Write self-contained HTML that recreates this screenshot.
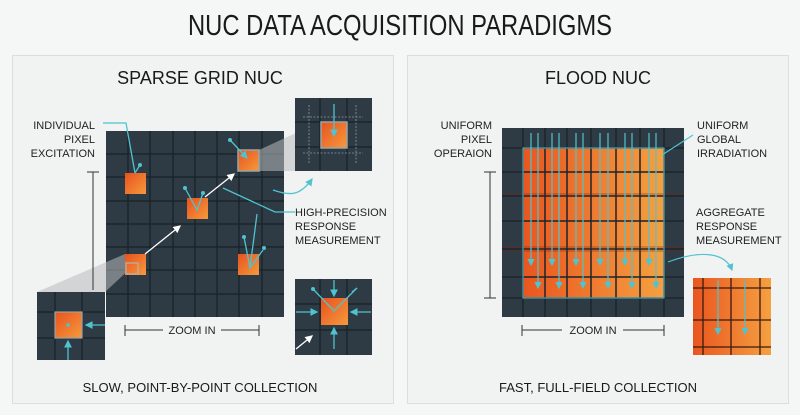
<!DOCTYPE html>
<html><head><meta charset="utf-8"><style>
html,body{margin:0;padding:0;background:#f5f6f6;}
svg{display:block;font-family:"Liberation Sans",sans-serif;}
</style></head><body>
<svg width="800" height="415" viewBox="0 0 800 415" xmlns="http://www.w3.org/2000/svg">
<defs>
<linearGradient id="og" x1="0" y1="0" x2="1" y2="1"><stop offset="0" stop-color="#e8521f"/><stop offset="1" stop-color="#f59a3c"/></linearGradient>
<linearGradient id="og2" x1="0" y1="0" x2="1" y2="0"><stop offset="0" stop-color="#e9561f"/><stop offset="1" stop-color="#f5a040"/></linearGradient>
<marker id="ac" markerWidth="6" markerHeight="6" refX="5" refY="3" orient="auto"><path d="M0,0L6,3L0,6z" fill="#4fc3d0"/></marker>
<marker id="aw" markerWidth="6" markerHeight="6" refX="5" refY="3" orient="auto"><path d="M0,0L6,3L0,6z" fill="#fff"/></marker>
</defs>
<text x="400" y="35" text-anchor="middle" font-size="29" fill="#1a1a1a" textLength="424" lengthAdjust="spacingAndGlyphs">NUC DATA ACQUISITION PARADIGMS</text>

<rect x="12.5" y="55.5" width="381" height="348" fill="#f1f2f2" stroke="#dcdede"/>
<rect x="407.5" y="55.5" width="381" height="348" fill="#f1f2f2" stroke="#dcdede"/>

<!-- LEFT -->
<text x="200" y="84" text-anchor="middle" font-size="18" fill="#1a1a1a">SPARSE GRID NUC</text>
<g fill="#2e3b45"><rect x="106" y="131" width="178" height="186"/></g>
<g stroke="#1b242b" stroke-width="1.5">
<path d="M128,131V317M150,131V317M173,131V317M195,131V317M217,131V317M239,131V317M262,131V317"/>
<path d="M106,154H284M106,177H284M106,201H284M106,224H284M106,247H284M106,270H284M106,294H284"/>
</g>
<!-- wedges -->
<polygon points="238,150 259,150 372,98 295,98 295,171 259,171" fill="#b8bcbe" opacity="0.55"/>
<polygon points="125,254 146,254 105,292 105,360 37,292" fill="#b8bcbe" opacity="0.55"/>
<!-- orange squares -->
<rect x="125" y="173" width="21" height="21" fill="url(#og)"/>
<rect x="187" y="198" width="21" height="21" fill="url(#og)"/>
<rect x="238" y="150" width="21" height="21" fill="url(#og)" stroke="#9aa5a5" stroke-width="1.5"/>
<rect x="125" y="254" width="21" height="21" fill="url(#og)"/>
<rect x="126" y="263" width="12" height="11" fill="none" stroke="#b7b3a8" stroke-width="1.2"/>
<rect x="238" y="254" width="21" height="21" fill="url(#og)"/>
<!-- cyan probes -->
<g stroke="#4fc3d0" stroke-width="1.3" fill="none">
<path d="M103,123H126L135,173"/><path d="M140,165L135,173"/>
<path d="M185,188L197,210L203,193"/>
<path d="M230,140L247,158" marker-end="url(#ac)"/>
<path d="M244,237L250,268L263,250"/>
<path d="M223,188L275,212H295"/><path d="M257,214L250,268"/>
<path d="M273,190C290,196 300,196 312,179" marker-end="url(#ac)"/>
</g>
<g fill="#4fc3d0"><circle cx="140" cy="165" r="2"/><circle cx="185" cy="188" r="2"/><circle cx="203" cy="193" r="2"/><circle cx="230" cy="140" r="2"/><circle cx="244" cy="237" r="2"/><circle cx="264" cy="248" r="2"/></g>
<g stroke="#fff" stroke-width="1.3"><path d="M145,254L180,226" marker-end="url(#aw)"/><path d="M205,197L234,174" marker-end="url(#aw)"/></g>
<!-- top-right inset -->
<rect x="295" y="98" width="77" height="73" fill="#2e3b45"/>
<g stroke="#1b242b" stroke-width="1.5"><path d="M320,98V171M347,98V171M295,122H372M295,147H372"/></g>
<g stroke="#8c979c" stroke-width="0.8" stroke-dasharray="2,1.5"><path d="M303,117H363M303,153H363M309,105V164M356,105V164"/></g>
<rect x="321" y="122" width="26" height="26" fill="url(#og)" stroke="#9aa5a5" stroke-width="1.5"/>
<path d="M334,104V136" stroke="#4fc3d0" stroke-width="1.3" marker-end="url(#ac)"/>
<!-- bottom-right inset -->
<rect x="295" y="279" width="77" height="76" fill="#2e3b45"/>
<g stroke="#1b242b" stroke-width="1.5"><path d="M320,279V355M347,279V355M295,304H372M295,330H372"/></g>
<rect x="321" y="298" width="27" height="27" fill="url(#og)"/>
<g stroke="#4fc3d0" stroke-width="1.3" fill="none">
<path d="M334,280V296" marker-end="url(#ac)"/><path d="M334,349V328" marker-end="url(#ac)"/>
<path d="M296,312H317" marker-end="url(#ac)"/><path d="M371,312H351" marker-end="url(#ac)"/>
<path d="M313,289L334,311L357,288" /><path d="M352,292L357,288"/>
</g>
<circle cx="313" cy="289" r="2" fill="#4fc3d0"/>
<path d="M296,349L312,336" stroke="#fff" stroke-width="1.3" marker-end="url(#aw)"/>
<!-- bottom-left inset -->
<rect x="37" y="292" width="68" height="68" fill="#2e3b45"/>
<g stroke="#1b242b" stroke-width="1.5"><path d="M55,292V360M82,292V360M37,312H105M37,338H105"/></g>
<rect x="55" y="312" width="27" height="26" fill="url(#og)" stroke="#9aa5a5" stroke-width="1.2"/>
<circle cx="68" cy="325" r="1.8" fill="#4fc3d0"/>
<g stroke="#4fc3d0" stroke-width="1.3"><path d="M105,325H86" marker-end="url(#ac)"/><path d="M68,360V341" marker-end="url(#ac)"/></g>
<!-- brackets -->
<g stroke="#333" stroke-width="1"><path d="M93,172V290M87,172H99"/><path d="M125,325V336M259,325V336M125,330H163M221,330H259"/></g>
<text x="192" y="334" text-anchor="middle" font-size="11" fill="#222">ZOOM IN</text>
<g font-size="11" fill="#222">
<text x="95" y="129" text-anchor="end">INDIVIDUAL</text><text x="95" y="143" text-anchor="end">PIXEL</text><text x="95" y="157" text-anchor="end">EXCITATION</text>
<text x="295" y="216">HIGH-PRECISION</text><text x="295" y="230">RESPONSE</text><text x="295" y="244">MEASUREMENT</text>
</g>
<text x="200" y="392" text-anchor="middle" font-size="13" fill="#1a1a1a">SLOW, POINT-BY-POINT COLLECTION</text>

<!-- RIGHT -->
<text x="598" y="84" text-anchor="middle" font-size="18" fill="#1a1a1a">FLOOD NUC</text>
<rect x="502" y="128" width="182" height="189" fill="#2e3b45"/>
<rect x="523" y="148" width="141" height="150" fill="url(#og2)"/>
<g stroke="#1b242b" stroke-width="1.5"><path d="M523,128V317M545,128V317M567,128V317M591,128V317M616,128V317M640,128V317M664,128V317M502,148H684M502,172H684M502,196H684M502,221H684M502,249H684M502,277H684M502,298H684"/></g>
<g stroke="#7a2510" stroke-width="0.8" opacity="0.7"><path d="M502,194H684M502,247H684M502,251H684"/></g>
<rect x="523" y="148" width="141" height="150" fill="none" stroke="#4fc3d0" stroke-width="1"/>
<g stroke="#4fc3d0" stroke-width="1.2" fill="none">
<path d="M531,133V265" marker-end="url(#ac)"/><path d="M538,133V288" marker-end="url(#ac)"/>
<path d="M552,133V265" marker-end="url(#ac)"/><path d="M559,133V288" marker-end="url(#ac)"/>
<path d="M576,133V265" marker-end="url(#ac)"/><path d="M583,133V288" marker-end="url(#ac)"/>
<path d="M600,133V265" marker-end="url(#ac)"/><path d="M608,133V288" marker-end="url(#ac)"/>
<path d="M625,133V265" marker-end="url(#ac)"/><path d="M632,133V288" marker-end="url(#ac)"/>
<path d="M649,133V265" marker-end="url(#ac)"/><path d="M656,133V288" marker-end="url(#ac)"/>
<path d="M662,155L693,135"/>
<path d="M668,262C700,250 725,252 732,270" marker-end="url(#ac)"/>
</g>
<rect x="693" y="278" width="78" height="77" fill="url(#og2)"/>
<g stroke="#3a1a12" stroke-width="1.3"><path d="M703,278V355M731,278V355M760,278V355M693,288H771M693,320H771M693,347H771"/></g>
<g stroke="#4fc3d0" stroke-width="1.2"><path d="M718,280V334" marker-end="url(#ac)"/><path d="M745,280V334" marker-end="url(#ac)"/></g>
<g stroke="#333" stroke-width="1"><path d="M490,172V298M484,172H496M484,298H496"/><path d="M522,325V336M664,325V336M522,330H562M623,330H664"/></g>
<text x="593" y="334" text-anchor="middle" font-size="11" fill="#222">ZOOM IN</text>
<g font-size="11" fill="#222">
<text x="492" y="129" text-anchor="end">UNIFORM</text><text x="492" y="143" text-anchor="end">PIXEL</text><text x="492" y="157" text-anchor="end">OPERAION</text>
<text x="697" y="129">UNIFORM</text><text x="697" y="143">GLOBAL</text><text x="697" y="157">IRRADIATION</text>
<text x="696" y="216">AGGREGATE</text><text x="696" y="230">RESPONSE</text><text x="696" y="244">MEASUREMENT</text>
</g>
<text x="598" y="392" text-anchor="middle" font-size="13" fill="#1a1a1a">FAST, FULL-FIELD COLLECTION</text>
</svg>
</body></html>
